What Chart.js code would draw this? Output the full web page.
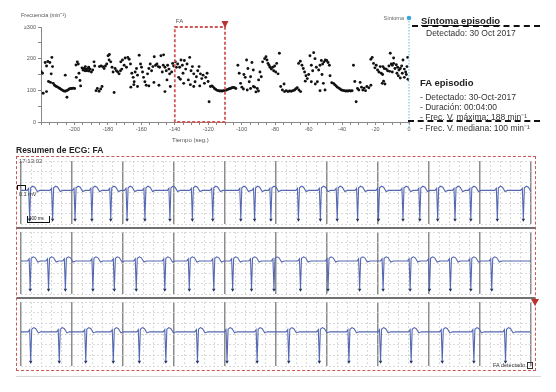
<!DOCTYPE html>
<html lang="es">
<head>
<meta charset="UTF-8">
<title>Episodio FA</title>
<style>
    body { margin: 0; padding: 0; background: #fff; font-family: Arial, "Liberation Sans", sans-serif; }
    #page { position: relative; width: 556px; height: 392px; overflow: hidden; }
    .abs { position: absolute; }
    .txt { position: absolute; white-space: nowrap; color: #333; line-height: 1; }
    .dash-line { position: absolute; height: 0; border-top: 2px dashed #111; }
</style>
</head>
<body>
<div id="page">
    <canvas id="hrChart" class="abs" width="420" height="150" style="left:0;top:0"></canvas>
    <div class="txt" style="left:21px;top:13px;font-size:5.5px;color:#555">Frecuencia (min⁻¹)</div>
    <div class="txt" style="left:172px;top:137px;font-size:6px;color:#555">Tiempo (seg.)</div>

    <div class="txt" style="left:421px;top:16px;font-size:9.5px;font-weight:bold;color:#222;text-decoration:underline">Síntoma episodio</div>
    <div class="dash-line" style="left:412px;top:25px;width:128px"></div>
    <div class="txt" style="left:426px;top:29px;font-size:8.5px">Detectado: 30 Oct 2017</div>

    <div class="txt" style="left:420px;top:78px;font-size:9.5px;font-weight:bold;color:#222">FA episodio</div>
    <div class="txt" style="left:420px;top:93px;font-size:8.5px">- Detectado: 30-Oct-2017</div>
    <div class="txt" style="left:420px;top:103px;font-size:8.5px">- Duración: 00:04:00</div>
    <div class="txt" style="left:420px;top:113px;font-size:8.5px">- Frec. V. máxima: 188 min⁻¹</div>
    <div class="dash-line" style="left:408px;top:120px;width:132px"></div>
    <div class="txt" style="left:420px;top:124px;font-size:8.5px">- Frec. V. mediana: 100 min⁻¹</div>

    <div class="txt" style="left:16px;top:146px;font-size:8.5px;font-weight:bold;color:#222">Resumen de ECG: FA</div>

    <canvas id="ecg1" class="abs" width="518" height="71" style="left:17px;top:157px"></canvas>
    <canvas id="ecg2" class="abs" width="518" height="70" style="left:17px;top:228px"></canvas>
    <canvas id="ecg3" class="abs" width="518" height="72" style="left:17px;top:298px"></canvas>

    <div class="abs" style="left:17px;top:227px;width:518px;height:2px;background:#707070"></div>
    <div class="abs" style="left:17px;top:297px;width:518px;height:2px;background:#707070"></div>
    <div class="abs" style="left:16px;top:156px;width:520px;height:215px;box-sizing:border-box;border:1.5px dashed #cf5656"></div>
    <div class="abs" style="left:531px;top:299px;width:0;height:0;border-left:4px solid transparent;border-right:4px solid transparent;border-top:7px solid #b83232"></div>
    <div class="abs" style="left:16px;top:376px;width:525px;height:1px;background:#d8d8d8"></div>

    <div class="txt" style="left:19px;top:158px;font-size:6px;color:#555">17:13:02</div>
    <div class="abs" style="left:17px;top:185px;width:7px;height:4px;border:1.3px solid #111;border-bottom:none"></div>
    <div class="txt" style="left:19px;top:192px;font-size:5.5px;color:#333">0.1 mV</div>
    <div class="abs" style="left:27px;top:216px;width:21px;height:6px;border:1.2px solid #111;border-top:none"></div>
    <div class="txt" style="left:29px;top:217px;font-size:4.5px;color:#222">400 ms</div>
    <div class="txt" style="left:493px;top:362px;font-size:5.5px;color:#333">FA detectado <span style="display:inline-block;width:4px;height:5px;border:1px solid #333;vertical-align:middle"></span></div>
</div>

<script src="https://cdn.jsdelivr.net/npm/chart.js"></script>
<script>
    // frecuencia ventricular [segundos, min-1]
    const rateBeforeFa = [
        [-219.9,159],[-219.1,154],[-218.7,91],[-217.5,188],[-216.7,177],[-215.9,191],[-214.7,188],[-213.5,204],
        [-213.1,175],[-213.9,152],[-215.5,128],[-214.3,125],[-212.7,122],[-216.7,96],
        [-211.9,116],[-211.1,113],[-210.3,111],[-209.5,108],[-208.7,106],[-207.9,103],[-207.1,100],[-206.3,98],
        [-205.5,97],[-204.7,99],[-203.9,101],[-203.1,104],[-202.3,106],[-201.5,106],[-200.7,107],[-199.9,106],
        [-205.5,148],[-204.5,78],
        [-199.1,180],[-198.3,190],[-197.7,183],[-198.9,141],[-197.3,154],[-196.7,131],[-196.3,114],
        [-195.5,171],[-194.9,164],[-194.3,169],[-193.7,162],[-193.1,167],[-192.5,162],[-191.9,169],[-191.3,161],
        [-190.7,167],[-189.9,158],[-189.1,164],[-193.5,175],[-191.5,173],
        [-188.3,190],[-187.9,177],[-187.1,99],[-186.3,106],[-185.3,97],[-184.3,104],[-183.5,112],
        [-185.1,175],[-184.1,177],[-183.1,175],[-182.3,169],[-181.5,177],[-180.7,183],[-179.9,209],[-179.1,213],
        [-179.3,196],[-178.3,190],[-177.5,173],[-176.9,158],[-176.3,93],
        [-175.7,169],[-174.9,162],[-174.1,158],[-173.3,152],[-172.5,162],[-171.7,167],[-172.3,190],[-171.3,196],
        [-170.3,179],[-169.7,202],[-168.9,173],[-168.1,204],[-167.3,198],[-166.5,183],[-165.7,154],[-164.9,141],
        [-164.3,127],[-163.7,158],[-162.9,169],[-162.3,148],[-166.3,110],[-164.5,118],[-162.3,112],
        [-161.3,211],[-160.5,183],[-159.9,173],[-159.3,158],[-158.7,141],[-157.9,127],[-157.1,116],[-156.3,152],
        [-155.5,169],[-154.7,183],[-153.9,162],[-153.1,175],[-152.3,206],[-151.5,179],[-150.7,183],[-149.9,175],
        [-149.1,173],[-148.3,209],[-147.5,158],[-146.9,179],[-155.5,114],[-152.5,125],[-149.5,116],
        [-146.7,212],[-145.9,173],[-145.1,162],[-144.7,133],[-144.3,179],[-143.5,167],[-143.1,152],[-145.9,96],
        [-142.7,112],[-141.9,158],[-141.3,185],[-140.7,177]
    ];
    const rateDuringFa = [
        [-139.7,190],[-139.1,173],[-138.3,183],[-137.7,141],[-137.1,173],[-136.3,196],[-135.5,179],[-135.1,154],
        [-134.3,194],[-133.5,167],[-132.7,183],[-131.9,133],[-131.1,204],[-130.3,162],[-129.5,175],[-128.7,152],
        [-127.9,127],[-127.1,143],[-126.3,162],[-125.5,175],[-124.7,152],[-123.9,137],[-123.1,148],[-122.3,122],
        [-121.5,141],[-120.7,154],[-120.1,128],[-136.7,135],[-134.7,122],[-130.7,118],[-128.7,112],[-125.1,114],
        [-119.5,64],
        [-118.7,112],[-117.9,114],[-117.1,111],[-116.3,106],[-115.5,103],[-114.7,100],[-113.9,99],[-113.1,98],
        [-112.3,98],[-111.5,98],[-110.7,99]
    ];
    const rateAfterFa = [
        [-109.9,100],[-109.1,101],[-108.3,103],[-107.5,105],[-106.7,106],[-105.9,108],[-105.1,109],[-104.3,108],
        [-103.5,106],
        [-102.3,179],[-101.5,154],[-100.7,122],[-99.9,110],[-98.7,150],[-97.9,141],[-97.1,196],[-96.3,169],
        [-95.5,127],[-94.7,143],[-93.9,188],[-93.1,164],[-92.3,110],[-91.5,95],[-90.7,106],[-89.9,133],
        [-89.1,158],[-88.3,143],[-87.5,190],[-86.3,200],[-85.5,206],[-84.9,196],[-84.3,185],[-83.7,179],
        [-83.1,173],[-82.3,167],[-81.5,173],[-80.9,162],[-80.3,177],[-79.7,158],[-79.1,185],[-78.3,152],
        [-77.5,217],[-76.7,112],[-75.7,101],[-74.7,120],
        [-99,104],[-96.7,101],[-94.7,106],[-93,112],[-90,98],
        [-74.4,96],[-73.4,99],[-72.4,96],[-71.4,98],[-70.4,97],[-69.4,99],[-68.4,101],[-67.6,105],[-66.8,108],
        [-65.8,101],[-64.8,96],
        [-66.0,185],[-65.0,192],[-64.0,179],[-63.2,169],[-62.4,158],[-61.6,146],[-60.8,137],[-60.0,150],
        [-59.2,209],[-58.4,179],[-57.6,162],[-57.0,219],[-56.2,200],[-55.4,173],[-54.8,127],[-54.0,164],
        [-53.2,179],[-52.4,194],[-51.6,183],[-50.8,190],[-50.0,196],[-49.2,194],[-48.4,188],[-47.6,179],
        [-52.0,150],[-51.2,122],[-53.2,99],[-50.2,101],[-56.0,120],[-58.4,127],[-62.0,129],[-47.2,146],[-46.2,124],
        [-45.2,122],[-44.4,118],[-43.6,114],[-42.8,110],[-42.0,107],[-41.2,104],[-40.4,101],[-39.6,100],
        [-38.8,99],[-38.0,98],[-37.2,98],[-36.4,98],[-35.6,99],[-34.8,98],[-34.0,99],[-33.2,179],[-32.4,128],
        [-31.6,64],[-30.8,106],[-30.0,101],[-29.2,125],[-28.4,110],[-27.6,101],[-26.8,107],[-26.0,99],
        [-25.2,112],[-24.0,108],[-22.8,116],
        [-22.8,198],[-22.0,204],[-21.2,185],[-20.4,171],[-19.6,179],[-18.8,164],[-18.0,158],[-17.2,175],
        [-16.6,154],[-15.8,150],[-15.2,129],[-14.4,120],[-13.6,167],[-12.8,162],[-12.0,177],[-11.2,217],
        [-10.6,183],[-10.0,179],[-9.2,185],[-8.4,169],[-7.6,181],[-6.8,173],[-6.0,164],[-5.2,169],[-4.4,177],
        [-3.6,196],[-2.8,167],[-2.0,158],[-1.2,175],[-0.6,135],[-6.4,146],[-5.2,139],[-4.0,154],[-2.8,141],
        [-1.6,150],[-9.2,202],[-0.8,204],[-16.0,122],[-11.6,160],[-10.0,158],[-7.2,154],[-15.6,175],[-14.8,169]
    ];
    const faStart = -140;
    const faEnd = -110;
    const symptomAt = 0;
    const timeTicks = [-200, -180, -160, -140, -120, -100, -80, -60, -40, -20, 0];
    const rateTicks = [0, 100, 200, 300];

    // latidos detectados (segundos dentro de cada tira de 10 s)
    const stripOneBeats = [0.17, 0.62, 1.06, 1.39, 1.76, 2.08, 2.43, 2.92, 3.36, 3.76, 4.31, 4.58, 4.90,
        5.44, 5.87, 6.20, 6.60, 7.01, 7.49, 7.82, 8.17, 8.51, 8.82, 9.34, 9.85];
    const stripTwoBeats = [0.18, 0.54, 0.87, 1.41, 1.83, 2.26, 2.82, 3.30, 3.78, 4.15, 4.52, 4.96, 5.48,
        6.02, 6.64, 7.10, 7.63, 8.01, 8.42, 8.82, 9.23];
    const stripThreeBeats = [0.19, 0.75, 1.27, 1.81, 2.32, 2.84, 3.46, 4.04, 4.63, 5.25, 5.85, 6.43, 7.05,
        7.65, 8.26, 8.88, 9.50];

    const toXY = arr => arr.map(p => ({x: p[0], y: p[1]}));

    const faOverlay = {
        id: 'faOverlay',
        afterDatasetsDraw(chart) {
            const ctx = chart.ctx;
            const x = chart.scales.x, y = chart.scales.y;
            const left = x.getPixelForValue(faStart), right = x.getPixelForValue(faEnd);
            const top = y.getPixelForValue(300), bottom = y.getPixelForValue(0);
            ctx.save();
            ctx.strokeStyle = '#cf5656';
            ctx.lineWidth = 1.8;
            ctx.setLineDash([3, 2]);
            ctx.strokeRect(left, top, right - left, bottom - top);
            ctx.setLineDash([]);
            ctx.fillStyle = '#b83232';
            ctx.beginPath();
            ctx.moveTo(right - 3.5, top - 6);
            ctx.lineTo(right + 3.5, top - 6);
            ctx.lineTo(right, top + 1);
            ctx.closePath();
            ctx.fill();
            ctx.fillStyle = '#555';
            ctx.font = '6px Arial';
            ctx.fillText('FA', left + 1, top - 4);

            const sx = x.getPixelForValue(symptomAt);
            ctx.strokeStyle = '#7cc6ea';
            ctx.lineWidth = 1.2;
            ctx.setLineDash([1.5, 1.5]);
            ctx.beginPath();
            ctx.moveTo(sx, 18);
            ctx.lineTo(sx, bottom + 6);
            ctx.stroke();
            ctx.setLineDash([]);
            ctx.fillStyle = '#3aa6dc';
            ctx.beginPath();
            ctx.arc(sx, 18, 2.3, 0, Math.PI * 2);
            ctx.fill();
            ctx.fillStyle = '#666';
            ctx.font = '5.5px Arial';
            ctx.textAlign = 'right';
            ctx.textBaseline = 'middle';
            ctx.fillText('Síntoma', sx - 5, 18);
            ctx.restore();
        }
    };

    new Chart(document.getElementById('hrChart'), {
        type: 'scatter',
        data: {
            datasets: [{
                data: toXY(rateBeforeFa.concat(rateDuringFa, rateAfterFa)),
                backgroundColor: '#111',
                borderWidth: 0,
                pointRadius: 1.45
            }]
        },
        options: {
            responsive: false,
            animation: false,
            layout: {padding: {left: 0, top: 27, right: 11, bottom: 10}},
            plugins: {legend: {display: false}, tooltip: {enabled: false}},
            scales: {
                x: {
                    type: 'linear', min: -220, max: 0,
                    afterFit: s => { s.height = 18; },
                    ticks: {
                        stepSize: 5, autoSkip: false, maxRotation: 0, padding: 1,
                        color: '#555', font: {size: 5.5},
                        callback: v => timeTicks.includes(v) ? String(v) : ''
                    },
                    grid: {drawOnChartArea: false, tickLength: 3, color: '#888'},
                    border: {color: '#888'}
                },
                y: {
                    min: 0, max: 300,
                    afterFit: s => { s.width = 41; },
                    ticks: {
                        stepSize: 50, autoSkip: false, padding: 2,
                        color: '#555', font: {size: 5.5},
                        callback: v => rateTicks.includes(v) ? (v === 300 ? '≥300' : String(v)) : ''
                    },
                    grid: {drawOnChartArea: false, tickLength: 3, color: '#888'},
                    border: {color: '#888'}
                }
            }
        },
        plugins: [faOverlay]
    });

    // forma de un latido alrededor del QRS [segundos, unidades]
    const beatShape = [[-0.05, 0], [-0.02, 0.2], [0, -2.75], [0.02, 0.25], [0.06, 0.4], [0.1, 0.3],
        [0.15, -0.1], [0.2, 0]];
    const whole = v => Math.abs(v - Math.round(v)) < 1e-6;

    function ecgStrip(id, beats) {
        const trace = [{x: 0, y: 0}];
        beats.forEach(b => beatShape.forEach(p => trace.push({x: b + p[0], y: p[1]})));
        trace.push({x: 10, y: 0});
        new Chart(document.getElementById(id), {
            type: 'scatter',
            data: {
                datasets: [{
                    data: trace,
                    showLine: true,
                    borderColor: '#5568b2',
                    borderWidth: 1.1,
                    pointRadius: 0
                }, {
                    data: beats.map(b => ({x: b, y: -2.8})),
                    pointStyle: 'triangle',
                    rotation: 180,
                    pointRadius: 2,
                    backgroundColor: '#1d2a55',
                    borderWidth: 0
                }]
            },
            options: {
                responsive: false,
                animation: false,
                layout: {padding: 0},
                plugins: {legend: {display: false}, tooltip: {enabled: false}},
                scales: {
                    x: {
                        type: 'linear', min: 0, max: 10,
                        afterFit: s => { s.height = 0; },
                        ticks: {stepSize: 0.2, display: false},
                        grid: {
                            drawTicks: false,
                            color: c => c.tick && whole(c.tick.value) ? '#8c8c8c' : '#d0d0d0',
                            lineWidth: c => c.tick && whole(c.tick.value) ? 1.5 : 0.8
                        },
                        border: {display: false, dash: c => c.tick && !whole(c.tick.value) ? [2, 2] : []}
                    },
                    y: {
                        min: -3.2, max: 2.8,
                        afterFit: s => { s.width = 0; },
                        ticks: {stepSize: 1, display: false},
                        grid: {drawTicks: false, color: '#d0d0d0', lineWidth: 0.8},
                        border: {display: false, dash: [2, 2]}
                    }
                }
            }
        });
    }

    ecgStrip('ecg1', stripOneBeats);
    ecgStrip('ecg2', stripTwoBeats);
    ecgStrip('ecg3', stripThreeBeats);
</script>
</body>
</html>
